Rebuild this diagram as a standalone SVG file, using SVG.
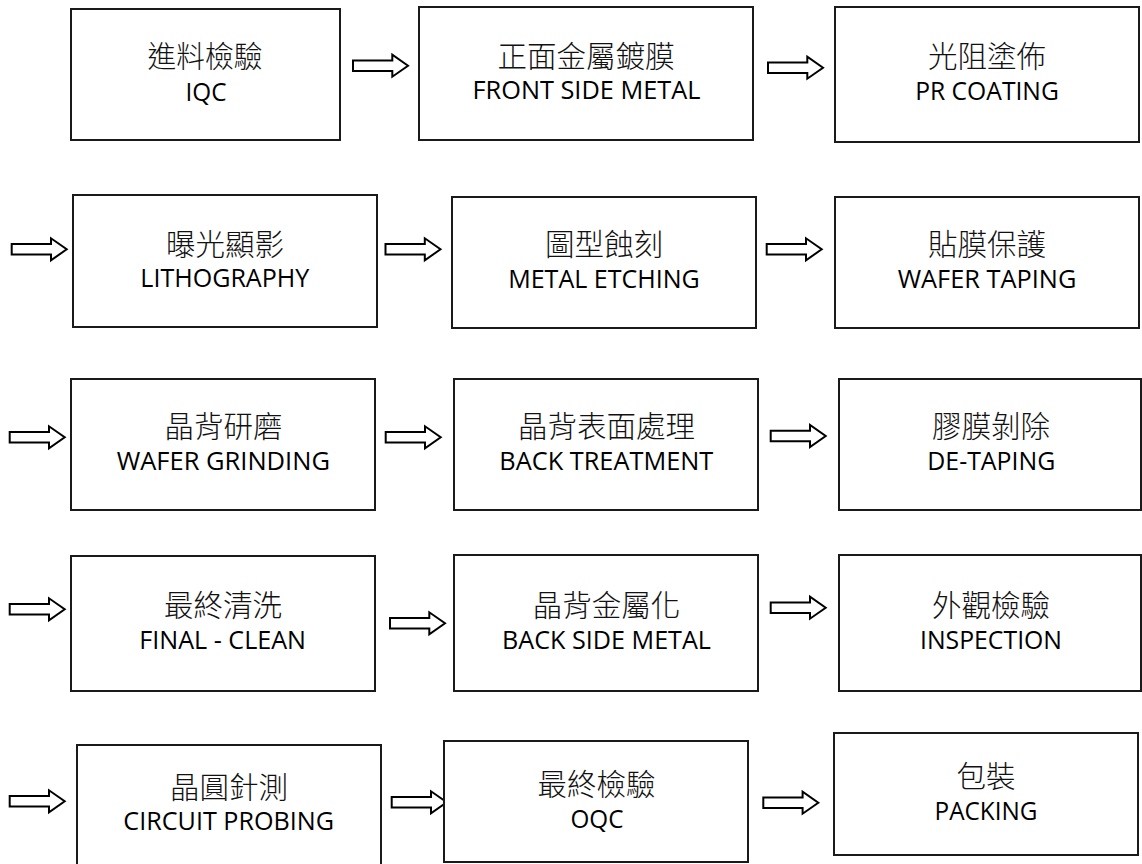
<svg xmlns="http://www.w3.org/2000/svg" xmlns:xlink="http://www.w3.org/1999/xlink" width="1142" height="864" viewBox="0 0 1142 864">
<style>
.box{fill:#ffffff;stroke:#1a1a1a;stroke-width:2}
.zh{font-family:"Noto Sans CJK TC","Noto Sans CJK SC",sans-serif;font-size:29.5px;font-weight:300;fill:#111;text-anchor:middle}
.en{font-family:"Open Sans","Liberation Sans",sans-serif;font-size:25.5px;fill:#000;text-anchor:middle}
.arr{fill:#ffffff;stroke:#000;stroke-width:2;stroke-linejoin:miter}
</style>
<defs>
<path id="ar" class="arr" d="M0,-5.2 H39.3 V-11 L55,0 L39.3,11 V5.2 H0 Z"/>
</defs>
<rect width="1142" height="864" fill="#ffffff"/>
<g id="connectors">
<use xlink:href="#ar" transform="translate(353,65.7)"/>
<use xlink:href="#ar" transform="translate(768,67.7)"/>
<use xlink:href="#ar" transform="translate(11.7,249.3)"/>
<use xlink:href="#ar" transform="translate(385.5,249.3)"/>
<use xlink:href="#ar" transform="translate(766.7,249.3)"/>
<use xlink:href="#ar" transform="translate(9.7,437.3)"/>
<use xlink:href="#ar" transform="translate(385.7,437.3)"/>
<use xlink:href="#ar" transform="translate(770.7,436)"/>
<use xlink:href="#ar" transform="translate(9.7,609.3)"/>
<use xlink:href="#ar" transform="translate(390,623.3)"/>
<use xlink:href="#ar" transform="translate(770.7,607.7)"/>
<use xlink:href="#ar" transform="translate(9.7,801.3)"/>
<use xlink:href="#ar" transform="translate(391.7,802.3)"/>
<use xlink:href="#ar" transform="translate(763.3,802.7)"/>
</g>
<g id="n1"><rect class="box" x="71" y="9" width="269" height="131"/>
<text class="zh" x="205" y="67" textLength="115" lengthAdjust="spacingAndGlyphs">進料檢驗</text><text class="en" x="206" y="100.5" textLength="41" lengthAdjust="spacingAndGlyphs">IQC</text></g>
<g id="n2"><rect class="box" x="419" y="7" width="334" height="133"/>
<text class="zh" x="586" y="66.5">正面金屬鍍膜</text><text class="en" x="586.5" y="99" textLength="228" lengthAdjust="spacingAndGlyphs">FRONT SIDE METAL</text></g>
<g id="n3"><rect class="box" x="835" y="7" width="304" height="135"/>
<text class="zh" x="987" y="67.3">光阻塗佈</text><text class="en" x="987" y="99.5" textLength="143.7" lengthAdjust="spacingAndGlyphs">PR COATING</text></g>
<g id="n4"><rect class="box" x="73" y="195" width="304" height="132"/>
<text class="zh" x="225" y="254.5">曝光顯影</text><text class="en" x="224.8" y="286.9" textLength="169" lengthAdjust="spacingAndGlyphs">LITHOGRAPHY</text></g>
<g id="n5"><rect class="box" x="452" y="197" width="304" height="131"/>
<text class="zh" x="604" y="255">圖型蝕刻</text><text class="en" x="604" y="287.5" textLength="191.7" lengthAdjust="spacingAndGlyphs">METAL ETCHING</text></g>
<g id="n6"><rect class="box" x="835" y="197" width="304" height="131"/>
<text class="zh" x="987" y="255">貼膜保護</text><text class="en" x="987" y="287.5" textLength="178.7" lengthAdjust="spacingAndGlyphs">WAFER TAPING</text></g>
<g id="n7"><rect class="box" x="71" y="379" width="304" height="131"/>
<text class="zh" x="223.5" y="437.2">晶背研磨</text><text class="en" x="223.3" y="469.6" textLength="213.3" lengthAdjust="spacingAndGlyphs">WAFER GRINDING</text></g>
<g id="n8"><rect class="box" x="454" y="379" width="304" height="131"/>
<text class="zh" x="606.5" y="437.2">晶背表面處理</text><text class="en" x="606.3" y="470" textLength="214" lengthAdjust="spacingAndGlyphs">BACK TREATMENT</text></g>
<g id="n9"><rect class="box" x="839" y="379" width="302" height="131"/>
<text class="zh" x="991" y="437.2">膠膜剝除</text><text class="en" x="991.3" y="470" textLength="128" lengthAdjust="spacingAndGlyphs">DE-TAPING</text></g>
<g id="n10"><rect class="box" x="71" y="556" width="304" height="135"/>
<text class="zh" x="223" y="616">最終清洗</text><text class="en" x="222.7" y="648.5" textLength="166.7" lengthAdjust="spacingAndGlyphs">FINAL - CLEAN</text></g>
<g id="n11"><rect class="box" x="454" y="555" width="304" height="136"/>
<text class="zh" x="606.5" y="616.3">晶背金屬化</text><text class="en" x="606.5" y="648.5" textLength="209" lengthAdjust="spacingAndGlyphs">BACK SIDE METAL</text></g>
<g id="n12"><rect class="box" x="839" y="555" width="302" height="136"/>
<text class="zh" x="991" y="616">外觀檢驗</text><text class="en" x="991" y="648.5" textLength="142" lengthAdjust="spacingAndGlyphs">INSPECTION</text></g>
<g id="n13"><rect class="box" x="77" y="745" width="304" height="130"/>
<text class="zh" x="229" y="798">晶圓針測</text><text class="en" x="228.7" y="830.2" textLength="210.7" lengthAdjust="spacingAndGlyphs">CIRCUIT PROBING</text></g>
<g id="n14"><rect class="box" x="444" y="741" width="304" height="121"/>
<text class="zh" x="596.5" y="794.5">最終檢驗</text><text class="en" x="597" y="828.3" textLength="53" lengthAdjust="spacingAndGlyphs">OQC</text></g>
<g id="n15"><rect class="box" x="834" y="733" width="304" height="122"/>
<text class="zh" x="986" y="787.3">包裝</text><text class="en" x="986" y="820" textLength="103" lengthAdjust="spacingAndGlyphs">PACKING</text></g>
</svg>
